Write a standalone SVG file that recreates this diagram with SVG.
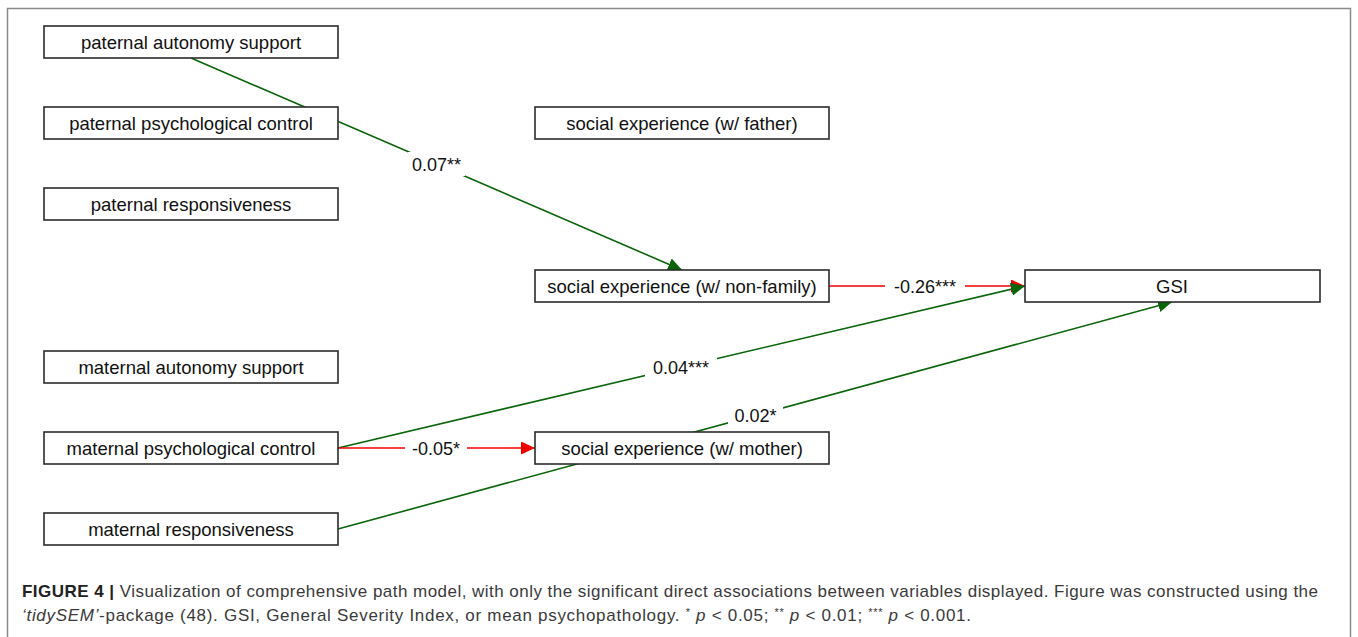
<svg xmlns="http://www.w3.org/2000/svg" width="1358" height="637" viewBox="0 0 1358 637">
<style>
.node rect{fill:#fff;stroke:#2b2b2b;stroke-width:1.6}
.node text{font-family:"Liberation Sans",Arial,sans-serif;font-size:18.5px;fill:#111;text-anchor:middle}
.pos{stroke:#0a640a;stroke-width:1.6;fill:none}
.neg{stroke:#f00000;stroke-width:1.6;fill:none}
.lbl{font-family:"Liberation Sans",Arial,sans-serif;font-size:18px;fill:#111;text-anchor:middle}
.bg{fill:#fff}
.cap{font-family:"Liberation Sans",Arial,sans-serif;font-size:17px;fill:#3a3a3a}
</style>
<defs>
<marker id="ag" markerUnits="userSpaceOnUse" markerWidth="15" markerHeight="13" refX="14" refY="6.5" orient="auto">
<path d="M0,0 L14,6.5 L0,13 Z" fill="#0a640a"/>
</marker>
<marker id="ar" markerUnits="userSpaceOnUse" markerWidth="15" markerHeight="13" refX="14" refY="6.5" orient="auto">
<path d="M0,0 L14,6.5 L0,13 Z" fill="#f00000"/>
</marker>
</defs>
<rect x="7.5" y="8.5" width="1343" height="660" fill="#fff" stroke="#8a8a8a" stroke-width="1.5"/>
<g id="connectors">
<line class="pos" x1="191" y1="58" x2="682" y2="270" marker-end="url(#ag)"/>
<line class="neg" x1="829" y1="286" x2="1025" y2="286" marker-end="url(#ar)"/>
<line class="pos" x1="338" y1="448" x2="1025" y2="286" marker-end="url(#ag)"/>
<line class="neg" x1="338" y1="448" x2="535" y2="448" marker-end="url(#ar)"/>
<line class="pos" x1="338" y1="529" x2="1172" y2="302" marker-end="url(#ag)"/>
<rect class="bg" x="408" y="152" width="57" height="24"/>
<text class="lbl" x="436.5" y="171">0.07**</text>
<rect class="bg" x="885" y="275" width="80" height="22"/>
<text class="lbl" x="925" y="292.5">-0.26***</text>
<rect class="bg" x="645" y="356" width="72" height="22"/>
<text class="lbl" x="681" y="373.5">0.04***</text>
<rect class="bg" x="405" y="437" width="62" height="22"/>
<text class="lbl" x="436" y="454.5">-0.05*</text>
<rect class="bg" x="728" y="404" width="55" height="22"/>
<text class="lbl" x="755.5" y="421.5">0.02*</text>
</g>
<g id="n_pat_auto" class="node"><rect x="44" y="26" width="294" height="32"/><text x="191" y="48.5">paternal autonomy support</text></g>
<g id="n_pat_psych" class="node"><rect x="44" y="107" width="294" height="32"/><text x="191" y="129.5">paternal psychological control</text></g>
<g id="n_pat_resp" class="node"><rect x="44" y="188" width="294" height="32"/><text x="191" y="210.5">paternal responsiveness</text></g>
<g id="n_soc_father" class="node"><rect x="535" y="107" width="294" height="32"/><text x="682" y="129.5">social experience (w/ father)</text></g>
<g id="n_soc_nonfam" class="node"><rect x="535" y="270" width="294" height="32"/><text x="682" y="292.5">social experience (w/ non-family)</text></g>
<g id="n_gsi" class="node"><rect x="1025" y="270" width="295" height="32"/><text x="1172" y="292.5">GSI</text></g>
<g id="n_mat_auto" class="node"><rect x="44" y="351" width="294" height="32"/><text x="191" y="373.5">maternal autonomy support</text></g>
<g id="n_mat_psych" class="node"><rect x="44" y="432" width="294" height="32"/><text x="191" y="454.5">maternal psychological control</text></g>
<g id="n_soc_mother" class="node"><rect x="535" y="432" width="294" height="32"/><text x="682" y="454.5">social experience (w/ mother)</text></g>
<g id="n_mat_resp" class="node"><rect x="44" y="513" width="294" height="32"/><text x="191" y="535.5">maternal responsiveness</text></g>
<g id="caption">
<text class="cap" x="22" y="597" textLength="1296"><tspan font-weight="bold" fill="#222">FIGURE 4 |</tspan> Visualization of comprehensive path model, with only the significant direct associations between variables displayed. Figure was constructed using the</text>
<text class="cap" x="22" y="621" textLength="949"><tspan font-style="italic">‘tidySEM’</tspan>-package (48). GSI, General Severity Index, or mean psychopathology. <tspan font-size="11" dy="-5">*</tspan><tspan dy="5"> </tspan><tspan font-style="italic">p</tspan> &lt; 0.05; <tspan font-size="11" dy="-5">**</tspan><tspan dy="5"> </tspan><tspan font-style="italic">p</tspan> &lt; 0.01; <tspan font-size="11" dy="-5">***</tspan><tspan dy="5"> </tspan><tspan font-style="italic">p</tspan> &lt; 0.001.</text>
</g>
</svg>
